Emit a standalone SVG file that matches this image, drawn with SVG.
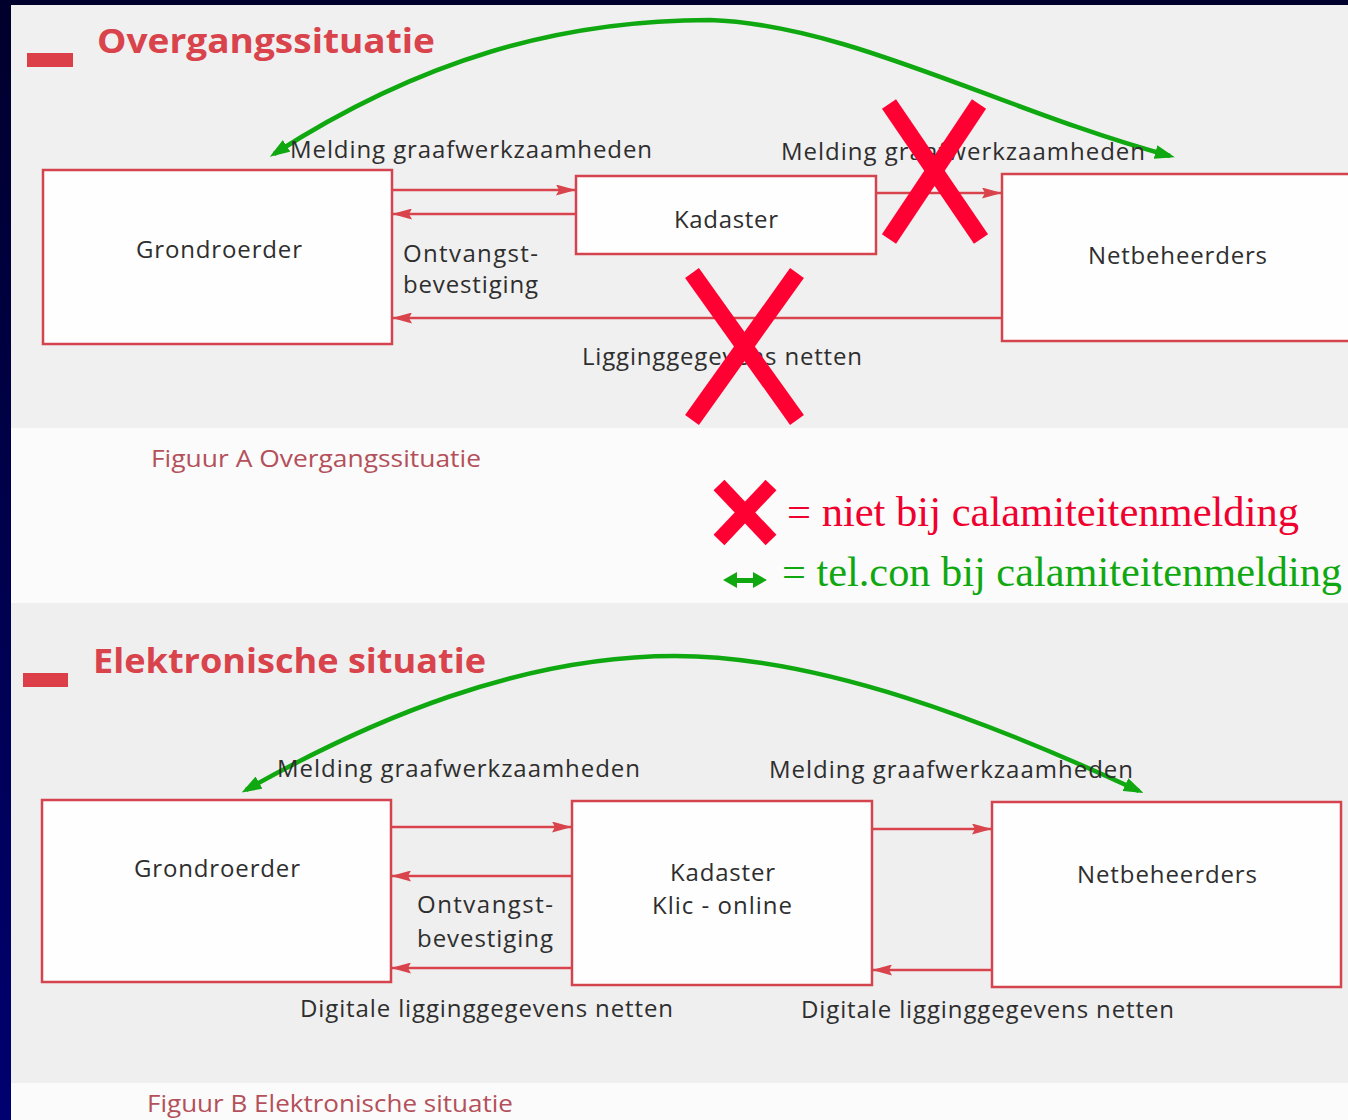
<svg xmlns="http://www.w3.org/2000/svg" width="1348" height="1120" viewBox="0 0 1348 1120">
<defs>
<style>
.box{fill:#fefefe;stroke:#d4444f;stroke-width:2.5}
.lbl{font-family:"Open Sans","Liberation Sans",sans-serif;font-size:24px;fill:#2e2e2e}
.ttl{font-family:"Open Sans","Liberation Sans",sans-serif;font-size:34px;font-weight:700;fill:#d9434c}
.cap{font-family:"Open Sans","Liberation Sans",sans-serif;font-size:23px;fill:#b4505a}
.red{fill:none;stroke:#d9434c;stroke-width:2.5}
.grn{fill:none;stroke:#10a810;stroke-width:4.5}
.x{stroke:#ff0033;stroke-width:17;stroke-linecap:butt}
.leg{font-family:"Liberation Serif","Times New Roman",serif;font-size:42px}
</style>
<linearGradient id="nv" x1="0" y1="0" x2="0" y2="1">
<stop offset="0" stop-color="#00002c"/>
<stop offset="1" stop-color="#000070"/>
</linearGradient>
<marker id="ra" viewBox="0 0 20 11" refX="20" refY="5.5" markerWidth="20" markerHeight="11" markerUnits="userSpaceOnUse" orient="auto"><path d="M0,0 L20,5.5 L0,11 L3,5.5 Z" fill="#d9434c"/></marker>
<marker id="ga" viewBox="0 0 20 14" refX="15" refY="7" markerWidth="20" markerHeight="14" markerUnits="userSpaceOnUse" orient="auto-start-reverse"><path d="M0,0 L20,7 L0,14 Z" fill="#10a810"/></marker>
</defs>

<g id="background">
<rect x="0" y="0" width="1348" height="1120" fill="url(#nv)"/>
<rect x="11" y="5" width="1337" height="1115" fill="#fbfbfb"/>
<rect x="11" y="5" width="1337" height="423" fill="#f1f0f0"/>
<rect x="11" y="603" width="1337" height="480" fill="#efefef"/>
</g>

<g id="section-a-title">
<rect x="27" y="53" width="46" height="14" fill="#dd3f48"/>
<text class="ttl" x="97" y="53" textLength="338" lengthAdjust="spacingAndGlyphs">Overgangssituatie</text>
</g>

<g id="a-grondroerder">
<rect class="box" x="43" y="170" width="349" height="174"/>
<text class="lbl" x="136" y="258" textLength="166">Grondroerder</text>
</g>
<g id="a-kadaster">
<rect class="box" x="576" y="176" width="300" height="78"/>
<text class="lbl" x="674" y="228" textLength="104">Kadaster</text>
</g>
<g id="a-netbeheerders">
<rect class="box" x="1002" y="174" width="360" height="167"/>
<text class="lbl" x="1088" y="264" textLength="179">Netbeheerders</text>
</g>

<g id="connectors">
<path class="red" d="M392 190 H576" marker-end="url(#ra)"/>
<path class="red" d="M576 214 H392" marker-end="url(#ra)"/>
<path class="red" d="M1002 318 H392" marker-end="url(#ra)"/>
<path class="red" d="M876 193 H1002" marker-end="url(#ra)"/>
<path class="red" d="M391 827 H572" marker-end="url(#ra)"/>
<path class="red" d="M572 876 H391" marker-end="url(#ra)"/>
<path class="red" d="M572 968 H391" marker-end="url(#ra)"/>
<path class="red" d="M872 829 H992" marker-end="url(#ra)"/>
<path class="red" d="M992 970 H872" marker-end="url(#ra)"/>
<path class="grn" d="M274 154 C420 60 560 20 710 20 C850 25 1000 110 1170 156" marker-start="url(#ga)" marker-end="url(#ga)"/>
<path class="grn" d="M246 790 C370 720 520 656 675 656 C820 656 990 722 1139 791" marker-start="url(#ga)" marker-end="url(#ga)"/>
</g>

<g id="a-labels">
<text class="lbl" x="290" y="158" textLength="362">Melding graafwerkzaamheden</text>
<text class="lbl" x="403" y="262" textLength="135">Ontvangst-</text>
<text class="lbl" x="403" y="293" textLength="135">bevestiging</text>
<text class="lbl" x="781" y="160" textLength="364">Melding graafwerkzaamheden</text>
<text class="lbl" x="582" y="365" textLength="280">Ligginggegevens netten</text>
<text class="cap" x="151" y="467" textLength="330" lengthAdjust="spacingAndGlyphs">Figuur A  Overgangssituatie</text>
</g>

<g id="a-crosses">
<line class="x" x1="889" y1="104" x2="981" y2="239"/>
<line class="x" x1="979" y1="104" x2="889" y2="239"/>
<line class="x" x1="692" y1="273" x2="797" y2="420"/>
<line class="x" x1="797" y1="273" x2="692" y2="420"/>
</g>

<g id="legend">
<line x1="719" y1="485" x2="771" y2="540" stroke="#ff0033" stroke-width="15"/>
<line x1="771" y1="485" x2="719" y2="540" stroke="#ff0033" stroke-width="15"/>
<text class="leg" x="787" y="526" textLength="512" lengthAdjust="spacingAndGlyphs" fill="#f0002e">= niet bij calamiteitenmelding</text>
<path d="M723 580 L737 572 L737 578 L753 578 L753 572 L767 580 L753 588 L753 583 L737 583 L737 588 Z" fill="#10a810"/>
<text class="leg" x="782" y="586" textLength="560" lengthAdjust="spacingAndGlyphs" fill="#10a810">= tel.con bij calamiteitenmelding</text>
</g>

<g id="section-b-title">
<rect x="23" y="673" width="45" height="14" fill="#dd3f48"/>
<text class="ttl" x="93" y="673" textLength="393" lengthAdjust="spacingAndGlyphs">Elektronische situatie</text>
</g>

<g id="b-grondroerder">
<rect class="box" x="42" y="800" width="349" height="182"/>
<text class="lbl" x="134" y="877" textLength="166">Grondroerder</text>
</g>
<g id="b-kadaster">
<rect class="box" x="572" y="801" width="300" height="184"/>
<text class="lbl" x="670" y="881" textLength="105">Kadaster</text>
<text class="lbl" x="652" y="914" textLength="140">Klic - online</text>
</g>
<g id="b-netbeheerders">
<rect class="box" x="992" y="802" width="349" height="185"/>
<text class="lbl" x="1077" y="883" textLength="180">Netbeheerders</text>
</g>

<g id="b-labels">
<text class="lbl" x="277" y="777" textLength="363">Melding graafwerkzaamheden</text>
<text class="lbl" x="417" y="913" textLength="136">Ontvangst-</text>
<text class="lbl" x="417" y="947" textLength="136">bevestiging</text>
<text class="lbl" x="300" y="1017" textLength="373">Digitale ligginggegevens netten</text>
<text class="lbl" x="769" y="778" textLength="364">Melding graafwerkzaamheden</text>
<text class="lbl" x="801" y="1018" textLength="373">Digitale ligginggegevens netten</text>
<text class="cap" x="147" y="1112" textLength="366" lengthAdjust="spacingAndGlyphs">Figuur B  Elektronische situatie</text>
</g>
</svg>
